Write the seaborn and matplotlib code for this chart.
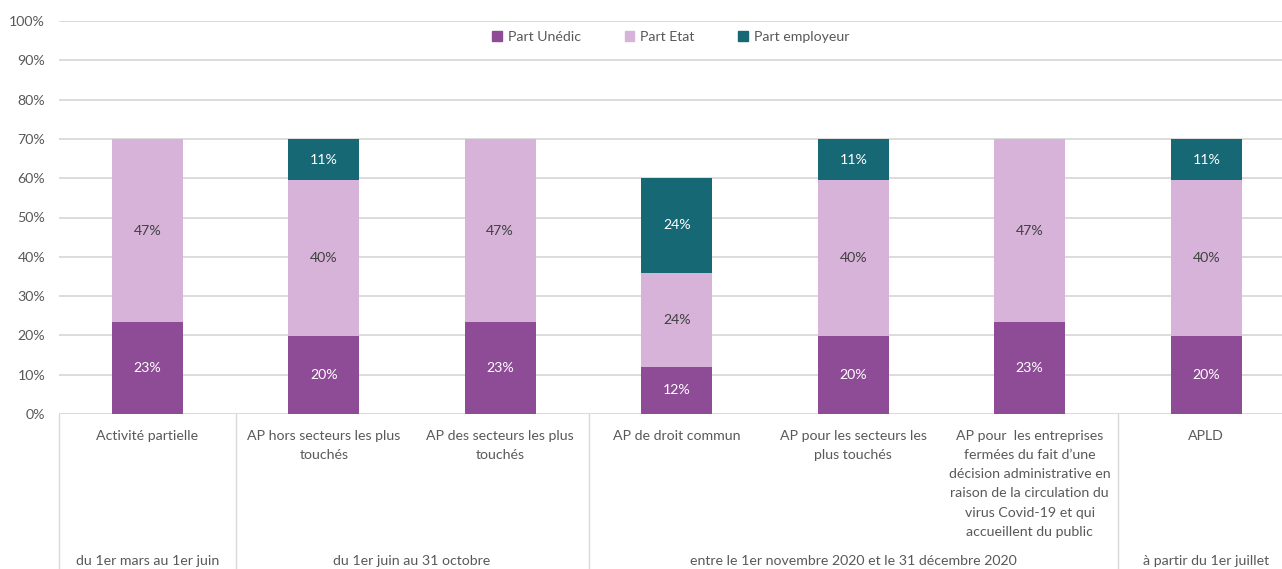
import matplotlib.pyplot as plt
import matplotlib.transforms as mtransforms
from matplotlib.patches import Patch
import pandas as pd
import seaborn as sns

# Data (shares in %)
categories = ["Activité partielle",
              "AP hors secteurs les plus\ntouchés",
              "AP des secteurs les plus\ntouchés",
              "AP de droit commun",
              "AP pour les secteurs les\nplus touchés",
              "AP pour  les entreprises\nfermées du fait d\u2019une\ndécision administrative en\nraison de la circulation du\nvirus Covid-19 et qui\naccueillent du public",
              "APLD"]
part_unedic = [23.3, 19.8, 23.3, 12.0, 19.8, 23.3, 19.8]
part_etat = [46.7, 39.7, 46.7, 24.0, 39.7, 46.7, 39.7]
part_employeur = [0.0, 10.5, 0.0, 24.0, 10.5, 0.0, 10.5]
label_unedic = ["23%", "20%", "23%", "12%", "20%", "23%", "20%"]
label_etat = ["47%", "40%", "47%", "24%", "40%", "47%", "40%"]
label_employeur = ["", "11%", "", "24%", "11%", "", "11%"]
groups = ["du 1er mars au 1er juin", "du 1er juin au 31 octobre",
          "entre le 1er novembre 2020 et le 31 décembre 2020", "à partir du 1er juillet"]
group_spans = [(0, 0), (1, 2), (3, 5), (6, 6)]

c_unedic = "#8E4C96"
c_etat = "#D7B3D9"
c_emp = "#156874"
grey_txt = "#595959"
grid_c = "#D9D9D9"

df = pd.DataFrame({"cat": categories, "unedic": part_unedic,
                   "etat": part_etat, "emp": part_employeur})
df["top2"] = df["unedic"] + df["etat"]
df["top3"] = df["top2"] + df["emp"]

sns.set_style("white")
plt.rcParams["font.family"] = ["Lato", "DejaVu Sans"]

fig = plt.figure(figsize=(12.82, 5.69), dpi=100)
ax = fig.add_axes([59 / 1282, 1 - 414 / 569, 1235.5 / 1282, 393 / 569])

# stacked bars: draw cumulative totals from the tallest down
sns.barplot(data=df, x="cat", y="top3", color=c_emp, width=0.4, ax=ax,
            saturation=1, linewidth=0)
sns.barplot(data=df, x="cat", y="top2", color=c_etat, width=0.4, ax=ax,
            saturation=1, linewidth=0)
sns.barplot(data=df, x="cat", y="unedic", color=c_unedic, width=0.4, ax=ax,
            saturation=1, linewidth=0)

# segment labels
for i in range(len(categories)):
    ax.text(i, part_unedic[i] / 2, label_unedic[i], ha="center", va="center",
            color="white", fontsize=10.2)
    ax.text(i, part_unedic[i] + part_etat[i] / 2, label_etat[i], ha="center",
            va="center", color="#404040", fontsize=10.2)
    if label_employeur[i]:
        ax.text(i, part_unedic[i] + part_etat[i] + part_employeur[i] / 2,
                label_employeur[i], ha="center", va="center",
                color="white", fontsize=10.2)

ax.set_xlim(-0.5, len(categories) - 0.5)
ax.set_ylim(0, 100)
ax.set_yticks(range(0, 101, 10))
ax.set_yticklabels([f"{v}%" for v in range(0, 101, 10)], color=grey_txt, fontsize=10.2)
ax.tick_params(axis="y", length=0, pad=10)
ax.set_xticks([])
ax.set_xlabel("")
ax.set_ylabel("")
ax.grid(axis="y", color=grid_c, linewidth=1.3)
ax.set_axisbelow(True)
for s in ax.spines.values():
    s.set_visible(False)

# category and group labels below the axis
trans = mtransforms.blended_transform_factory(ax.transData, ax.transAxes)
for i, cat in enumerate(categories):
    ax.text(i, -0.04, cat, transform=trans, ha="center", va="top",
            color=grey_txt, fontsize=10.2, linespacing=1.72)
for g, (a, b) in zip(groups, group_spans):
    ax.text((a + b) / 2, -0.374, g, transform=trans, ha="center", va="center",
            color=grey_txt, fontsize=10.2)
for xs in [-0.5, 0.5, 2.5, 5.5, 6.5]:
    ax.plot([xs, xs], [0, -0.4], transform=trans, color=grid_c,
            linewidth=1.0, clip_on=False)

handles = [Patch(color=c_unedic, label="Part Unédic"),
           Patch(color=c_etat, label="Part Etat"),
           Patch(color=c_emp, label="Part employeur")]
ax.legend(handles=handles, loc="upper center", bbox_to_anchor=(0.5 - 6 / 1235.5, 1.008),
          ncol=3, frameon=False, fontsize=10.2, handlelength=0.7, handleheight=0.7,
          handletextpad=0.4, columnspacing=3.1, labelcolor=grey_txt)

fig.savefig("out.png", dpi=100)
